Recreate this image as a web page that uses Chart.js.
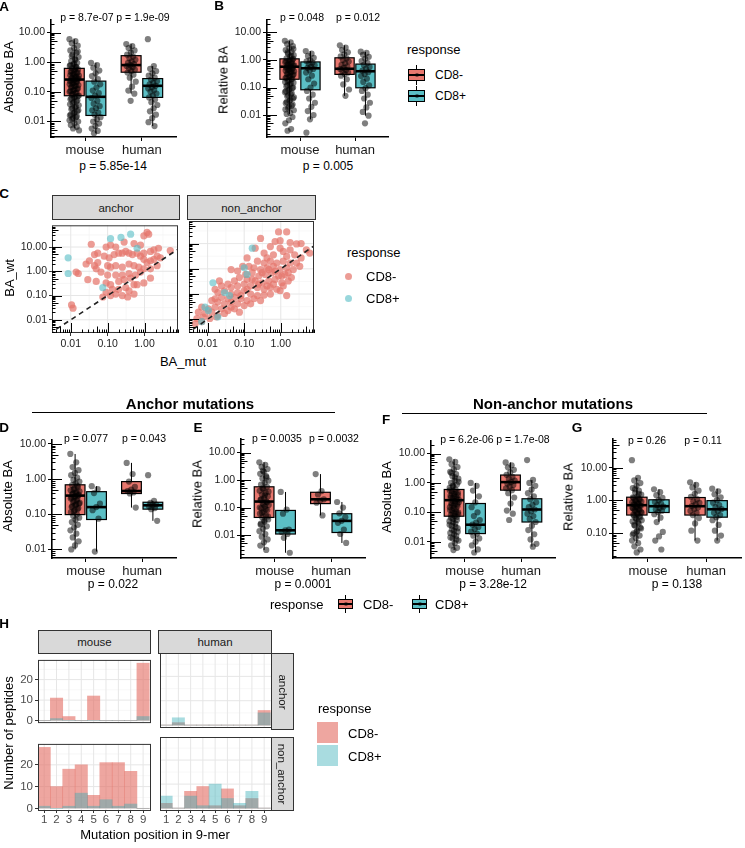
<!DOCTYPE html>
<html>
<head>
<meta charset="utf-8">
<script src="https://cdn.jsdelivr.net/npm/chart.js@4.4.1/dist/chart.umd.min.js"></script>
<style>
  body { margin: 0; background: #fff; width: 745px; height: 848px; position: relative; overflow: hidden;
         font-family: "Liberation Sans", Arial, sans-serif; }
  canvas { position: absolute; }
  .lab { position: absolute; white-space: nowrap; line-height: 1; color: #000; }
  .strip { position: absolute; background: #D9D9D9; border: 1px solid #333; box-sizing: border-box;
           display: flex; align-items: center; justify-content: center; font-size: 11.5px; color: #1a1a1a; }
  .blk { position: absolute; box-sizing: border-box; }
</style>
</head>
<body>
<script>
const FONT = '"Liberation Sans", Arial, sans-serif';
Chart.defaults.font.family = FONT;

// categories
const species = ['mouse', 'human'];
const responses = ['CD8-', 'CD8+'];
const mutationPositions = [1, 2, 3, 4, 5, 6, 7, 8, 9];

// tick labels
const baTicks = [0.01, 0.1, 1, 10];
const baTicksG = [0.1, 1, 10];
const mutTicks = [0.01, 0.1, 1];
const countTicks = [0, 10, 20];

// boxplot stats: [lower whisker, Q1, median, Q3, upper whisker]
// order: mouse CD8-, mouse CD8+, human CD8-, human CD8+
const boxA = [[0.006, 0.074, 0.26, 0.62, 6.0], [0.004, 0.016, 0.068, 0.23, 0.95], [0.087, 0.46, 0.8, 1.66, 4.1], [0.007, 0.065, 0.16, 0.28, 0.74]];
const boxB = [[0.011, 0.2, 0.57, 1.1, 5.0], [0.007, 0.083, 0.5, 0.85, 2.1], [0.05, 0.3, 0.48, 1.2, 3.4], [0.0095, 0.098, 0.39, 0.71, 2.0]];
const boxD = [[0.01, 0.098, 0.34, 0.69, 5.2], [0.0087, 0.071, 0.16, 0.44, 0.63], [0.155, 0.39, 0.46, 0.85, 2.9], [0.065, 0.14, 0.18, 0.22, 0.24]];
const boxE = [[0.0029, 0.044, 0.166, 0.57, 4.4], [0.0023, 0.011, 0.015, 0.079, 0.37], [0.052, 0.14, 0.2, 0.36, 1.65], [0.0052, 0.0125, 0.033, 0.06, 0.16]];
const boxF = [[0.0052, 0.074, 0.26, 0.6, 6.4], [0.0043, 0.019, 0.038, 0.2, 1.0], [0.115, 0.57, 1.07, 1.86, 5.0], [0.0068, 0.047, 0.125, 0.29, 1.27]];
const boxG = [[0.05, 0.36, 0.72, 1.26, 4.9], [0.22, 0.43, 0.67, 1.05, 2.2], [0.06, 0.36, 0.67, 1.23, 3.6], [0.06, 0.31, 0.54, 0.99, 2.3]];

// jittered points (BA values)
const aMouseNeg = [6.0, 5.2, 4.4, 3.6, 3.0, 2.5, 2.1, 1.8, 1.5, 1.3, 1.1, 0.95, 0.85, 0.75, 0.68, 0.62, 0.57, 0.52, 0.47, 0.43, 0.39, 0.35, 0.32, 0.29, 0.27, 0.25, 0.23, 0.21, 0.19, 0.17, 0.155, 0.14, 0.125, 0.11, 0.1, 0.09, 0.08, 0.072, 0.064, 0.056, 0.048, 0.041, 0.035, 0.03, 0.026, 0.022, 0.019, 0.016, 0.014, 0.012, 0.01, 0.0088, 0.0076, 0.0066, 0.0058, 0.005,
  0.6, 0.5, 0.45, 0.4, 0.36, 0.33, 0.3, 0.28, 0.26, 0.24, 0.22, 0.2, 0.18, 0.16, 0.15, 0.13, 0.12, 0.105, 0.095, 0.085, 0.075, 0.068, 0.06, 0.052, 0.045, 0.038, 0.032, 0.028, 0.024, 0.02, 0.017, 0.015, 0.013, 0.011, 1.2, 1.6, 2.3, 0.9, 0.8, 0.7];
const aMousePos = [0.95, 0.8, 0.65, 0.52, 0.42, 0.34, 0.27, 0.22, 0.18, 0.14, 0.11, 0.09, 0.075, 0.062, 0.05, 0.04, 0.033, 0.028, 0.024, 0.02, 0.017, 0.014, 0.012, 0.01, 0.0085, 0.007, 0.0058, 0.0048, 0.004];
const aHumanNeg = [4.1, 3.5, 3.0, 2.5, 2.1, 1.8, 1.55, 1.35, 1.2, 1.05, 0.95, 0.87, 0.8, 0.74, 0.68, 0.62, 0.56, 0.5, 0.45, 0.38, 0.3, 0.22, 0.15, 0.11, 0.087, 0.05];
const aHumanPos = [6.0, 0.74, 0.6, 0.5, 0.42, 0.35, 0.3, 0.26, 0.23, 0.2, 0.18, 0.16, 0.145, 0.13, 0.115, 0.1, 0.088, 0.075, 0.065, 0.055, 0.045, 0.036, 0.028, 0.022, 0.017, 0.013, 0.0095, 0.007];

const bMouseNeg = [5.0, 4.4, 3.8, 3.2, 2.7, 2.3, 2.0, 1.7, 1.5, 1.3, 1.15, 1.02, 0.92, 0.83, 0.75, 0.68, 0.62, 0.57, 0.52, 0.47, 0.43, 0.39, 0.35, 0.31, 0.28, 0.25, 0.22, 0.2, 0.17, 0.15, 0.13, 0.11, 0.095, 0.08, 0.068, 0.057, 0.048, 0.04, 0.033, 0.027, 0.022, 0.018, 0.015, 0.012, 0.011, 0.0085, 0.0065, 0.005, 0.0031, 0.0027,
  1.1, 1.0, 0.88, 0.8, 0.7, 0.64, 0.59, 0.54, 0.5, 0.45, 0.41, 0.37, 0.33, 0.3, 0.26, 0.23, 0.21, 0.18, 0.16, 0.14, 0.12, 0.1, 0.088, 0.074, 0.062, 0.052, 0.044, 0.036, 0.03, 0.024, 0.02, 0.016, 1.4, 1.9, 2.5];
const bMousePos = [2.1, 1.7, 1.4, 1.2, 1.0, 0.9, 0.8, 0.72, 0.65, 0.58, 0.52, 0.47, 0.42, 0.35, 0.27, 0.2, 0.14, 0.1, 0.075, 0.055, 0.04, 0.028, 0.02, 0.014, 0.01, 0.007, 0.0023];
const bHumanNeg = [3.4, 2.8, 2.3, 1.9, 1.6, 1.35, 1.15, 1.0, 0.88, 0.76, 0.66, 0.58, 0.52, 0.47, 0.43, 0.39, 0.35, 0.31, 0.27, 0.2, 0.13, 0.085, 0.05];
const bHumanPos = [2.0, 1.8, 1.55, 1.3, 1.1, 0.92, 0.78, 0.66, 0.56, 0.48, 0.41, 0.36, 0.31, 0.26, 0.21, 0.16, 0.12, 0.095, 0.075, 0.055, 0.04, 0.028, 0.019, 0.013, 0.0095, 0.005];

const dMouseNeg = [5.2, 3.0, 2.2, 1.8, 1.5, 1.3, 1.1, 0.95, 0.85, 0.76, 0.68, 0.6, 0.54, 0.48, 0.43, 0.39, 0.36, 0.33, 0.3, 0.27, 0.24, 0.21, 0.19, 0.17, 0.15, 0.13, 0.115, 0.1, 0.09, 0.08, 0.07, 0.06, 0.05, 0.042, 0.035, 0.028, 0.022, 0.017, 0.013, 0.01,
  0.64, 0.5, 0.45, 0.41, 0.37, 0.34, 0.31, 0.28, 0.25, 0.22, 0.2, 0.18, 0.16, 0.14, 0.12];
const dMousePos = [0.63, 0.52, 0.4, 0.2, 0.16, 0.13, 0.075, 0.0087];
const dHumanNeg = [2.9, 1.4, 0.85, 0.6, 0.5, 0.46, 0.42, 0.39, 0.155];
const dHumanPos = [1.3, 0.24, 0.21, 0.19, 0.18, 0.17, 0.15, 0.14, 0.065];

const eMouseNeg = [4.4, 3.6, 3.0, 2.5, 2.0, 1.7, 1.4, 1.15, 0.95, 0.8, 0.68, 0.57, 0.48, 0.41, 0.35, 0.3, 0.26, 0.22, 0.19, 0.166, 0.145, 0.125, 0.11, 0.095, 0.082, 0.07, 0.06, 0.052, 0.044, 0.037, 0.031, 0.026, 0.021, 0.017, 0.014, 0.011, 0.0088, 0.007, 0.0055, 0.0042, 0.0029,
  0.5, 0.38, 0.28, 0.2, 0.155, 0.13, 0.1, 0.088, 0.065, 0.048, 0.034, 0.024, 1.25, 2.2];
const eMousePos = [0.37, 0.085, 0.06, 0.016, 0.015, 0.013, 0.011, 0.008, 0.0023];
const eHumanNeg = [1.65, 0.4, 0.3, 0.2, 0.18, 0.15, 0.052];
const eHumanPos = [0.16, 0.1, 0.062, 0.045, 0.033, 0.028, 0.016, 0.011, 0.0052];

const fMouseNeg = [6.4, 5.2, 4.3, 3.5, 2.9, 2.4, 2.0, 1.7, 1.4, 1.2, 1.0, 0.88, 0.77, 0.68, 0.6, 0.53, 0.47, 0.42, 0.37, 0.33, 0.3, 0.27, 0.24, 0.21, 0.19, 0.17, 0.15, 0.13, 0.115, 0.1, 0.09, 0.08, 0.07, 0.06, 0.05, 0.042, 0.035, 0.029, 0.024, 0.02, 0.016, 0.013, 0.011, 0.009, 0.0075, 0.0062, 0.0052,
  0.56, 0.5, 0.44, 0.39, 0.35, 0.31, 0.28, 0.25, 0.22, 0.2, 0.18, 0.16, 0.14, 0.12, 0.105, 0.095, 0.085, 0.075, 0.065, 0.055, 0.046, 0.038, 0.032, 0.026, 0.022, 0.018, 0.014, 0.012, 0.8, 1.1, 1.55, 2.2];
const fMousePos = [1.0, 0.8, 0.55, 0.35, 0.22, 0.15, 0.1, 0.075, 0.055, 0.045, 0.038, 0.032, 0.027, 0.022, 0.019, 0.016, 0.013, 0.01, 0.0075, 0.0055, 0.0043];
const fHumanNeg = [5.0, 4.0, 3.4, 2.8, 2.3, 1.9, 1.6, 1.4, 1.2, 1.07, 0.95, 0.85, 0.75, 0.66, 0.57, 0.45, 0.32, 0.2, 0.115, 0.09, 0.055];
const fHumanPos = [6.0, 1.27, 1.0, 0.8, 0.6, 0.45, 0.35, 0.28, 0.22, 0.18, 0.15, 0.125, 0.11, 0.09, 0.075, 0.06, 0.047, 0.035, 0.025, 0.018, 0.012, 0.0085, 0.0068];

const gMouseNeg = [17, 4.9, 4.1, 3.4, 2.8, 2.4, 2.0, 1.75, 1.5, 1.32, 1.18, 1.06, 0.96, 0.88, 0.8, 0.74, 0.68, 0.62, 0.57, 0.52, 0.47, 0.43, 0.39, 0.35, 0.31, 0.27, 0.23, 0.2, 0.17, 0.14, 0.12, 0.1, 0.085, 0.072, 0.06, 0.05, 0.04, 0.032, 0.026,
  1.25, 1.12, 1.0, 0.92, 0.84, 0.77, 0.71, 0.65, 0.6, 0.55, 0.5, 0.45, 0.41, 0.37, 0.33, 0.29, 0.25, 0.22, 0.18, 0.15, 0.11, 0.09, 1.6, 2.2];
const gMousePos = [2.2, 1.8, 1.45, 1.2, 1.02, 0.9, 0.8, 0.72, 0.65, 0.59, 0.54, 0.49, 0.44, 0.38, 0.3, 0.22, 0.11, 0.08, 0.06, 0.032];
const gHumanNeg = [3.6, 3.0, 2.5, 2.0, 1.6, 1.3, 1.1, 0.95, 0.85, 0.76, 0.68, 0.61, 0.55, 0.48, 0.42, 0.36, 0.29, 0.2, 0.12, 0.06];
const gHumanPos = [2.3, 1.9, 1.55, 1.25, 1.02, 0.86, 0.73, 0.63, 0.55, 0.48, 0.42, 0.36, 0.31, 0.25, 0.18, 0.12, 0.085, 0.06];

// panel C: [BA_mut, BA_wt]
const anchorNeg = [[0.036, 13], [0.054, 5.6], [0.044, 4.9], [0.091, 10], [0.12, 12], [0.166, 10], [0.28, 16], [0.52, 14], [0.96, 29], [1.17, 40],
  [1.3, 34], [0.78, 12], [0.96, 5.6], [1.45, 6.6], [1.8, 7.6], [2.4, 8.9], [5.0, 7.2], [0.026, 2.0], [0.044, 1.7], [0.054, 2.3],
  [0.081, 4.2], [0.11, 3.6], [0.15, 4.9], [0.2, 5.6], [0.25, 5.6], [0.31, 6.6], [0.38, 5.6], [0.47, 4.9], [0.63, 5.6], [0.78, 4.2],
  [0.96, 3.1], [1.17, 2.3], [1.45, 2.7], [1.8, 3.1], [2.2, 4.2], [2.7, 3.6], [0.032, 2.7], [0.1, 1.7], [0.12, 1.47], [0.166, 1.7],
  [0.25, 1.47], [0.38, 2.0], [0.52, 1.7], [0.7, 1.47], [0.96, 1.26], [1.45, 1.26], [2.2, 1.7], [0.78, 0.93], [0.57, 0.7], [0.38, 0.81],
  [0.25, 0.7], [0.166, 0.7], [0.1, 0.7], [0.066, 0.93], [0.049, 1.26], [0.016, 0.81], [0.014, 0.93], [0.029, 0.45], [0.049, 0.38], [0.091, 0.33],
  [0.12, 0.28], [0.2, 0.38], [0.28, 0.45], [0.42, 0.52], [0.63, 0.28], [0.96, 0.33], [1.45, 0.52], [0.31, 0.21], [0.38, 0.155], [0.25, 0.1],
  [0.35, 0.087], [0.166, 0.115], [0.12, 0.1], [0.074, 0.087], [0.091, 0.135], [0.0105, 0.041], [0.0115, 0.03], [0.135, 0.18], [0.2, 0.18], [0.52, 0.28], [0.52, 0.115]];
const anchorPos = [[0.0085, 3.6], [0.0085, 0.81], [0.12, 22], [0.42, 34], [0.23, 25], [0.63, 8.9], [0.074, 0.21]];
const nonAnchorNeg = [[0.87, 29], [1.45, 29], [0.28, 16], [0.7, 12], [0.96, 13], [1.8, 11], [2.7, 9.7], [3.6, 10], [0.2, 6.6], [0.52, 7.6],
  [0.96, 6.6], [1.8, 5.6], [5.0, 5.6], [1.17, 4.9], [0.35, 4.2], [0.12, 2.7], [0.63, 3.6], [0.42, 2.7], [1.45, 3.1], [2.4, 3.6],
  [3.6, 2.7], [6.2, 4.2], [0.23, 2.0], [0.35, 1.7], [0.52, 2.0], [0.78, 1.7], [1.17, 2.0], [1.8, 1.7], [2.7, 1.7], [0.091, 1.26],
  [0.135, 1.26], [0.185, 1.1], [0.28, 0.93], [0.42, 1.1], [0.63, 1.26], [0.96, 0.93], [1.45, 1.1], [2.2, 0.93], [3.3, 1.26], [0.044, 0.93],
  [0.066, 0.81], [0.11, 0.6], [0.166, 0.7], [0.25, 0.52], [0.38, 0.6], [0.57, 0.7], [0.87, 0.52], [1.3, 0.6], [1.95, 0.45], [0.12, 0.38],
  [0.2, 0.33], [0.31, 0.28], [0.47, 0.33], [0.7, 0.38], [1.07, 0.28], [1.6, 0.33], [0.074, 0.45], [0.054, 0.33], [0.036, 0.245], [0.024, 0.21],
  [0.044, 0.18], [0.066, 0.21], [0.1, 0.245], [0.15, 0.21], [0.23, 0.18], [0.35, 0.155], [0.52, 0.18], [0.78, 0.155], [1.17, 0.21], [1.45, 0.087],
  [0.016, 0.155], [0.019, 0.115], [0.029, 0.135], [0.044, 0.1], [0.066, 0.115], [0.1, 0.135], [0.15, 0.1], [0.23, 0.087], [0.35, 0.091], [0.52, 0.1],
  [0.024, 0.074], [0.036, 0.065], [0.054, 0.074], [0.081, 0.065], [0.12, 0.055], [0.185, 0.065], [0.28, 0.055], [0.013, 0.055], [0.019, 0.048], [0.029, 0.041],
  [0.044, 0.048], [0.066, 0.041], [0.1, 0.035], [0.15, 0.041], [0.0069, 0.03], [0.0105, 0.026], [0.016, 0.03], [0.024, 0.026], [0.036, 0.022], [0.054, 0.026],
  [0.0056, 0.019], [0.0085, 0.017], [0.013, 0.019], [0.019, 0.0144], [0.029, 0.017], [0.0051, 0.0107], [0.0076, 0.0123], [0.0115, 0.0107], [0.0175, 0.0123], [0.0069, 0.008],
  [0.0046, 0.0068], [0.016, 0.065], [0.021, 0.33], [0.31, 0.7], [0.47, 0.93], [0.7, 0.81], [1.07, 0.52], [1.6, 0.7], [0.166, 0.38], [0.25, 0.245],
  [0.081, 0.087], [0.12, 0.155], [0.42, 0.21], [0.63, 0.245], [0.96, 0.135], [0.044, 0.03], [0.074, 0.019]];
const nonAnchorPos = [[0.166, 6.6], [0.1, 1.1], [0.014, 0.28], [0.0085, 0.03], [0.029, 0.115], [0.019, 0.0123], [0.0069, 0.008], [0.04, 0.087], [0.0105, 0.022], [0.12, 0.6]];

// panel H: number of peptides per mutation position
const hMouseAnchorNeg = [0, 11, 2, 0, 12, 0, 0, 0, 28];
const hMouseAnchorPos = [0, 1, 0, 0, 0, 0, 0, 0, 2];
const hHumanAnchorNeg = [0, 1, 0, 0, 0, 0, 0, 0, 6];
const hHumanAnchorPos = [0, 3, 0, 0, 0, 0, 0, 0, 5];
const hMouseNonNeg = [28, 10, 18, 20, 6, 21, 21, 17, 0];
const hMouseNonPos = [1, 0, 1, 7, 1, 4, 1, 2, 0];
const hHumanNonNeg = [2, 0, 7, 9, 1, 8, 1, 4, 0];
const hHumanNonPos = [5, 0, 5, 1, 10, 4, 2, 7, 0];

// p-value annotations
const pA = ['p = 8.7e-07', 'p = 1.9e-09', 'p = 5.85e-14'];
const pB = ['p = 0.048', 'p = 0.012', 'p = 0.005'];
const pD = ['p = 0.077', 'p = 0.043', 'p = 0.022'];
const pE = ['p = 0.0035', 'p = 0.0032', 'p = 0.0001'];
const pF = ['p = 6.2e-06', 'p = 1.7e-08', 'p = 3.28e-12'];
const pG = ['p = 0.26', 'p = 0.11', 'p = 0.138'];

const boxColors = ['#E8776E', '#5BBFC5'];
const dotColors = ['rgba(228,118,108,0.72)', 'rgba(90,190,198,0.62)'];
const barColors = ['rgba(228,112,102,0.62)', 'rgba(50,172,182,0.42)'];

const jitter = i => ((i * 0.618034) % 1 - 0.5) * 0.17;

// ---------- helpers ----------
function addDiv(style, cls, text) {
  const d = document.createElement('div');
  d.className = cls || 'blk';
  if (text !== undefined) d.textContent = text;
  for (const k in style) d.style[k] = typeof style[k] === 'number' ? style[k] + 'px' : style[k];
  document.body.appendChild(d);
  return d;
}

function label(text, x, y, o = {}) {
  const d = addDiv({ left: x, top: y, fontSize: o.size || 11 }, 'lab', text);
  if (o.bold) d.style.fontWeight = 'bold';
  if (o.color) d.style.color = o.color;
  const ax = o.align === 'left' ? '0' : '-50%';
  d.style.transform = `translate(${ax},-50%)` + (o.rot ? ` rotate(${o.rot}deg)` : '');
}

function makeCanvas(p, m) {
  const c = document.createElement('canvas');
  const w = p.r - p.l + m.l + m.r, h = p.b - p.t + m.t + m.b;
  c.width = w; c.height = h;
  Object.assign(c.style, { left: (p.l - m.l) + 'px', top: (p.t - m.t) + 'px', width: w + 'px', height: h + 'px' });
  document.body.appendChild(c);
  return c;
}

function scaleOpts(o, show, fit) {
  return {
    type: o.type, min: o.min, max: o.max, display: show, offset: false,
    afterBuildTicks: s => { s.ticks = o.ticks.map(v => ({ value: v })); },
    afterFit: s => { if (s.isHorizontal()) s.height = fit; else s.width = fit; },
    ticks: { callback: o.fmt, autoSkip: false, maxRotation: 0, minRotation: 0, padding: o.pad === undefined ? 2 : o.pad,
             color: o.color || '#1a1a1a', font: { size: o.size || 10.5 } },
    grid: { drawOnChartArea: false, drawTicks: true, offset: false, tickLength: o.tickLen || 4, color: o.tickColor || '#000', lineWidth: 1 },
    border: { display: !!o.border, color: '#000', width: o.border || 1 }
  };
}

function build(p, cfg) {
  const m = { l: cfg.showY ? cfg.yw : 2, t: 2, r: 2, b: cfg.showX ? cfg.xh : 2 };
  const canvas = makeCanvas(p, m);
  return new Chart(canvas, {
    type: cfg.type,
    data: { datasets: cfg.datasets },
    options: {
      responsive: false, animation: false, events: [],
      layout: { padding: { left: cfg.showY ? 0 : m.l, right: m.r, top: m.t, bottom: cfg.showX ? 0 : m.b } },
      plugins: { legend: { display: false }, tooltip: { enabled: false } },
      scales: { x: scaleOpts(cfg.x, cfg.showX, m.b), y: scaleOpts(cfg.y, cfg.showY, m.l) }
    },
    plugins: cfg.plugins
  });
}

// annotation_logticks style marks
function logTickPlugin(sides) {
  return {
    id: 'logticks',
    afterDatasetsDraw(chart) {
      const { ctx, chartArea: a } = chart;
      ctx.save();
      ctx.strokeStyle = '#000';
      ctx.lineWidth = 1;
      sides.forEach(side => {
        const s = side === 'l' ? chart.scales.y : chart.scales.x;
        for (let d = -4; d <= 2; d++) {
          for (let k = 1; k <= 9; k++) {
            const v = k * Math.pow(10, d);
            if (v < s.min || v > s.max) continue;
            const len = k === 1 ? 10 : (k === 5 ? 6.5 : 3.5);
            const px = Math.round(s.getPixelForValue(v)) + 0.5;
            ctx.beginPath();
            if (side === 'l') { ctx.moveTo(a.left, px); ctx.lineTo(a.left + len, px); }
            else { ctx.moveTo(px, a.bottom); ctx.lineTo(px, a.bottom - len); }
            ctx.stroke();
          }
        }
      });
      ctx.restore();
    }
  };
}

// boxes drawn under the jittered points
function boxPlugin(stats, dodge, half) {
  return {
    id: 'boxes',
    beforeDatasetsDraw(chart) {
      const { ctx, scales: { x, y } } = chart;
      ctx.save();
      stats.forEach((s, k) => {
        const cv = Math.floor(k / 2) + 1 + (k % 2 ? dodge : -dodge);
        const xc = x.getPixelForValue(cv);
        const hw = x.getPixelForValue(cv + half) - xc;
        const [lo, q1, md, q3, hi] = s.map(v => y.getPixelForValue(v));
        ctx.strokeStyle = '#000';
        ctx.lineWidth = 1;
        ctx.beginPath();
        ctx.moveTo(xc, hi); ctx.lineTo(xc, q3);
        ctx.moveTo(xc, q1); ctx.lineTo(xc, lo);
        ctx.stroke();
        ctx.fillStyle = boxColors[k % 2];
        ctx.fillRect(xc - hw, q3, 2 * hw, q1 - q3);
        ctx.lineWidth = 1.2;
        ctx.strokeRect(xc - hw, q3, 2 * hw, q1 - q3);
        ctx.lineWidth = 2.6;
        ctx.beginPath(); ctx.moveTo(xc - hw, md); ctx.lineTo(xc + hw, md); ctx.stroke();
      });
      ctx.restore();
    }
  };
}

// facet panel background grid + border (theme_bw look)
function framePlugin(g) {
  return {
    id: 'frame',
    beforeDatasetsDraw(chart) {
      const { ctx, chartArea: a, scales: { x, y } } = chart;
      ctx.save();
      const draw = (vals, s, vertical, color, lw) => {
        ctx.strokeStyle = color; ctx.lineWidth = lw;
        vals.forEach(v => {
          const p = s.getPixelForValue(v);
          ctx.beginPath();
          if (vertical) { ctx.moveTo(p, a.top); ctx.lineTo(p, a.bottom); }
          else { ctx.moveTo(a.left, p); ctx.lineTo(a.right, p); }
          ctx.stroke();
        });
      };
      draw(g.xMinor, x, true, '#F3F3F3', 0.7);
      draw(g.yMinor, y, false, '#F3F3F3', 0.7);
      draw(g.xMajor, x, true, '#E6E6E6', 1);
      draw(g.yMajor, y, false, '#E6E6E6', 1);
      ctx.restore();
    },
    afterDatasetsDraw(chart) {
      const { ctx, chartArea: a } = chart;
      ctx.save();
      ctx.strokeStyle = '#333';
      ctx.lineWidth = 1;
      ctx.strokeRect(a.left + 0.5, a.top + 0.5, a.right - a.left - 1, a.bottom - a.top - 1);
      ctx.restore();
    }
  };
}

// ---------- boxplot panels (A, B, D, E, F, G) ----------
function boxChart(p) {
  const dodge = 0.19, half = 0.175;
  const datasets = p.points.map((vals, k) => {
    const cv = Math.floor(k / 2) + 1 + (k % 2 ? dodge : -dodge);
    return {
      data: vals.map((v, i) => ({ x: cv + jitter(i), y: v })),
      pointRadius: 3.1, backgroundColor: 'rgba(0,0,0,0.5)', borderWidth: 0
    };
  });
  build(p.plot, {
    type: 'scatter', datasets, showX: true, showY: true, yw: 40, xh: 22,
    x: { type: 'linear', min: 0.4, max: 2.6, ticks: [1, 2], fmt: v => species[v - 1], size: 13, border: 1.6 },
    y: { type: 'logarithmic', min: p.yMin, max: p.yMax, ticks: p.yTicks, fmt: v => v.toFixed(2), size: 10.5, border: 1.6 },
    plugins: [boxPlugin(p.stats, dodge, half), logTickPlugin(['l'])]
  });
  label(p.pv[0], p.pTop[0], p.pTop[2], { size: 10.5 });
  label(p.pv[1], p.pTop[1], p.pTop[2], { size: 10.5 });
  label(p.pv[2], p.pBottom[0], p.pBottom[1], { size: 12 });
}

const boxPanels = [
  { plot: { l: 51, t: 13, r: 178, b: 137 }, yMin: 0.003, yMax: 28, yTicks: baTicks, stats: boxA,
    points: [aMouseNeg, aMousePos, aHumanNeg, aHumanPos], pv: pA, pTop: [87, 143, 17], pBottom: [113, 166] },
  { plot: { l: 267, t: 13, r: 390, b: 137 }, yMin: 0.0016, yMax: 30, yTicks: baTicks, stats: boxB,
    points: [bMouseNeg, bMousePos, bHumanNeg, bHumanPos], pv: pB, pTop: [302, 358, 17], pBottom: [328, 166] },
  { plot: { l: 52, t: 433, r: 178, b: 558 }, yMin: 0.0057, yMax: 13.6, yTicks: baTicks, stats: boxD,
    points: [dMouseNeg, dMousePos, dHumanNeg, dHumanPos], pv: pD, pTop: [86, 144, 438], pBottom: [113, 584] },
  { plot: { l: 241, t: 432, r: 367, b: 558 }, yMin: 0.00148, yMax: 32.9, yTicks: baTicks, stats: boxE,
    points: [eMouseNeg, eMousePos, eHumanNeg, eHumanPos], pv: pE, pTop: [277, 334, 438], pBottom: [303, 584] },
  { plot: { l: 431, t: 434, r: 557, b: 558 }, yMin: 0.0028, yMax: 28.3, yTicks: baTicks, stats: boxF,
    points: [fMouseNeg, fMousePos, fHumanNeg, fHumanPos], pv: pF, pTop: [467, 523, 439], pBottom: [493, 584] },
  { plot: { l: 613, t: 432, r: 743, b: 558 }, yMin: 0.0176, yMax: 79, yTicks: baTicksG, stats: boxG,
    points: [gMouseNeg, gMousePos, gHumanNeg, gHumanPos], pv: pG, pTop: [647, 703, 440], pBottom: [677, 584] }
];
boxPanels.forEach(boxChart);

// ---------- panel C scatter facets ----------
function scatterChart(p, neg, pos, showY) {
  const pts = arr => arr.map(d => ({ x: d[0], y: d[1] }));
  build(p, {
    type: 'scatter', showX: true, showY, yw: 40, xh: 18,
    datasets: [
      { type: 'line', data: [{ x: 0.001, y: 0.001 }, { x: 100, y: 100 }], borderColor: '#222', borderWidth: 1.6,
        borderDash: [5, 4], pointRadius: 0, fill: false, order: 0 },
      { data: pts(pos), pointRadius: 3.6, backgroundColor: dotColors[1], borderWidth: 0, order: 1 },
      { data: pts(neg), pointRadius: 3.6, backgroundColor: dotColors[0], borderWidth: 0, order: 2 }
    ],
    x: { type: 'logarithmic', min: 0.0031, max: 8.1, ticks: mutTicks, fmt: v => v.toFixed(2), size: 10.5, tickColor: '#333', tickLen: 3, color: '#222' },
    y: { type: 'logarithmic', min: 0.00285, max: 78.7, ticks: baTicks, fmt: v => v.toFixed(2), size: 10.5, tickColor: '#333', tickLen: 3, color: '#222' },
    plugins: [
      framePlugin({ xMajor: [0.01, 0.1, 1], xMinor: [0.00316, 0.0316, 0.316, 3.16], yMajor: [0.01, 0.1, 1, 10], yMinor: [0.00316, 0.0316, 0.316, 3.16, 31.6] }),
      logTickPlugin(['l', 'b'])
    ]
  });
}
scatterChart({ l: 52, t: 219, r: 180, b: 333 }, anchorNeg, anchorPos, true);
scatterChart({ l: 187, t: 219, r: 316, b: 333 }, nonAnchorNeg, nonAnchorPos, false);

// ---------- panel H bar facets ----------
function barChart(p, neg, pos, showX, showY) {
  const ds = (vals, color, order) => ({
    type: 'bar', data: vals.map((v, i) => ({ x: mutationPositions[i], y: v })), backgroundColor: color,
    grouped: false, barPercentage: 1, categoryPercentage: 1, borderWidth: 0, order
  });
  build(p, {
    type: 'bar', showX, showY, yw: 28, xh: 16,
    datasets: [ds(neg, barColors[0], 2), ds(pos, barColors[1], 1)],
    x: { type: 'linear', min: 0.5, max: 9.64, ticks: mutationPositions, fmt: v => String(v), size: 11.5, color: '#4D4D4D', tickColor: '#333', tickLen: 2, pad: 0 },
    y: { type: 'linear', min: -1.2, max: 29.6, ticks: countTicks, fmt: v => String(v), size: 11.5, color: '#4D4D4D', tickColor: '#333', tickLen: 3 },
    plugins: [framePlugin({ xMajor: mutationPositions, xMinor: [], yMajor: countTicks, yMinor: [5, 15, 25] })]
  });
}
barChart({ l: 38, t: 653, r: 151, b: 730 }, hMouseAnchorNeg, hMouseAnchorPos, false, true);
barChart({ l: 158, t: 653, r: 272, b: 730 }, hHumanAnchorNeg, hHumanAnchorPos, false, false);
barChart({ l: 38, t: 737, r: 151, b: 811 }, hMouseNonNeg, hMouseNonPos, true, true);
barChart({ l: 158, t: 737, r: 272, b: 811 }, hHumanNonNeg, hHumanNonPos, true, false);

// ---------- strips ----------
addDiv({ left: 52, top: 195, width: 128, height: 25 }, 'strip', 'anchor');
addDiv({ left: 187, top: 195, width: 129, height: 25 }, 'strip', 'non_anchor');
addDiv({ left: 38, top: 630, width: 113, height: 24 }, 'strip', species[0]);
addDiv({ left: 158, top: 630, width: 114, height: 24 }, 'strip', species[1]);
const sA = addDiv({ left: 271, top: 653, width: 23, height: 77 }, 'strip');
const sN = addDiv({ left: 271, top: 737, width: 23, height: 74 }, 'strip');
[[sA, 'anchor'], [sN, 'non_anchor']].forEach(([el, t]) => {
  const s = document.createElement('span');
  s.textContent = t;
  s.style.transform = 'rotate(90deg)';
  s.style.whiteSpace = 'nowrap';
  s.style.display = 'inline-block';
  el.appendChild(s);
});

// ---------- panel letters, titles, axis titles ----------
[['A', 4, 7], ['B', 219, 6], ['C', 4, 194], ['D', 4, 428], ['E', 198, 428], ['F', 386, 420], ['G', 577, 428], ['H', 4, 624]]
  .forEach(([t, x, y]) => label(t, x, y, { size: 13.5, bold: true }));

label('Anchor mutations', 190, 403, { size: 15, bold: true });
addDiv({ left: 32, top: 412, width: 303, height: 1, background: '#000' });
label('Non-anchor mutations', 553, 403, { size: 15, bold: true });
addDiv({ left: 402, top: 413, width: 305, height: 1, background: '#000' });

label('Absolute BA', 8, 77, { size: 13, rot: -90 });
label('Relative BA', 223, 80, { size: 13, rot: -90 });
label('BA_wt', 9, 278, { size: 13, rot: -90 });
label('BA_mut', 183, 361, { size: 13 });
label('Absolute BA', 7, 496, { size: 13, rot: -90 });
label('Relative BA', 197, 494, { size: 13, rot: -90 });
label('Absolute BA', 386, 497, { size: 13, rot: -90 });
label('Relative BA', 568, 497, { size: 13, rot: -90 });
label('Number of peptides', 8, 733, { size: 13, rot: -90 });
label('Mutation position in 9-mer', 155, 834, { size: 13 });

// ---------- legends ----------
function boxKey(x, cy, w, h, color) {
  const xc = x + w / 2;
  addDiv({ left: xc - 0.5, top: cy - h / 2 - 4, width: 1, height: h + 8, background: '#000' });
  addDiv({ left: x, top: cy - h / 2, width: w, height: h, background: color, border: '1px solid #000' });
  addDiv({ left: x, top: cy - 1, width: w, height: 2, background: '#000' });
  addDiv({ left: xc - 2, top: cy - 2, width: 4, height: 4, borderRadius: '50%', background: 'rgba(0,0,0,0.5)' });
}

// legend next to B
label('response', 407, 49, { size: 13, align: 'left' });
boxKey(408, 75, 17, 12, boxColors[0]);
boxKey(408, 96, 17, 12, boxColors[1]);
label(responses[0], 435, 75, { size: 12, align: 'left' });
label(responses[1], 435, 96, { size: 12, align: 'left' });

// legend next to C
label('response', 347, 252, { size: 13, align: 'left' });
addDiv({ left: 344.5, top: 272.5, width: 7, height: 7, borderRadius: '50%', background: dotColors[0] });
addDiv({ left: 344.5, top: 294.5, width: 7, height: 7, borderRadius: '50%', background: dotColors[1] });
label(responses[0], 366, 276, { size: 13, align: 'left' });
label(responses[1], 366, 298, { size: 13, align: 'left' });

// legend between D-G and H
label('response', 270, 604, { size: 13, align: 'left' });
boxKey(338, 604, 15, 10, boxColors[0]);
label(responses[0], 363, 604, { size: 13, align: 'left' });
boxKey(412, 604, 15, 10, boxColors[1]);
label(responses[1], 435, 604, { size: 13, align: 'left' });

// legend next to H
label('response', 318, 708, { size: 13, align: 'left' });
addDiv({ left: 317, top: 722, width: 21, height: 21, background: barColors[0] });
addDiv({ left: 317, top: 745, width: 21, height: 21, background: barColors[1] });
label(responses[0], 348, 733, { size: 13, align: 'left' });
label(responses[1], 348, 756, { size: 13, align: 'left' });
</script>
</body>
</html>
